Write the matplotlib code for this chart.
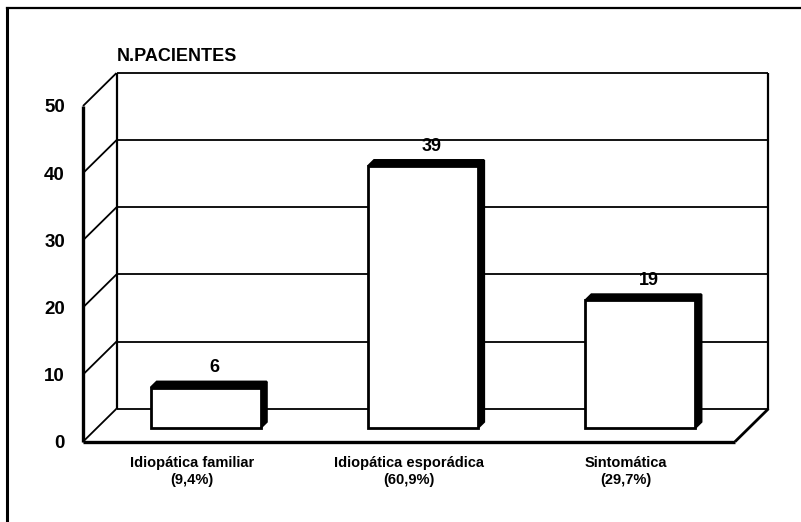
import matplotlib
matplotlib.use("Agg")
import matplotlib.pyplot as plt
from matplotlib.patches import Polygon
from matplotlib.lines import Line2D

# datos
categorias = ["Idiopática familiar\n(9,4%)", "Idiopática esporádica\n(60,9%)", "Sintomática\n(29,7%)"]
pacientes = [6, 39, 19]
ticks_y = [0, 10, 20, 30, 40, 50]
titulo_eje = "N.PACIENTES"

plt.rcParams['font.family'] = ['Liberation Sans', 'DejaVu Sans']

W, H = 801, 522
fig = plt.figure(figsize=(W / 100, H / 100), dpi=100)
fig.patch.set_facecolor("white")

# el plano frontal de la caja 3D es el area del eje
ax = fig.add_axes([83 / W, (H - 441.7) / H, (735 - 83) / W, (441.7 - 106) / H])
ax.set_xlim(-0.5, 2.5)
ax.set_ylim(0, 50)
for s in ax.spines.values():
    s.set_visible(False)
ax.patch.set_visible(False)

# profundidad (oblicua) en unidades de datos
DX = 33.5 / (652 / 3)
DY = 33.0 / (335.7 / 50)


def proj(x, v, z):
    return x + z * DX, v + z * DY


def linea(p, q, lw=1.3):
    ax.add_line(Line2D([p[0], q[0]], [p[1], q[1]], color="black", lw=lw,
                       clip_on=False, zorder=1, solid_capstyle="butt"))


# rejilla de la pared del fondo y pared lateral
for v in ticks_y:
    linea(proj(-0.5, v, 1), proj(2.5, v, 1))
    linea(proj(-0.5, v, 0), proj(-0.5, v, 1))
linea(proj(-0.5, 0, 1), proj(-0.5, 50, 1), 1.6)
linea(proj(2.5, 0, 1), proj(2.5, 50, 1), 1.6)
linea(proj(-0.5, 0, 0), proj(-0.5, 50, 0), 2.4)
# suelo
linea(proj(-0.5, 0, 0), proj(2.5, 0, 0), 2.4)
linea(proj(2.5, 0, 0), proj(2.5, 0, 1), 2.0)

# barras
w = 0.253
z0, z1 = 0.42, 0.60
for i, v in enumerate(pacientes):
    frente = [proj(i - w, 0, z0), proj(i + w, 0, z0), proj(i + w, v, z0), proj(i - w, v, z0)]
    tapa = [proj(i - w, v, z0), proj(i + w, v, z0), proj(i + w, v, z1), proj(i - w, v, z1)]
    lado = [proj(i + w, 0, z0), proj(i + w, 0, z1), proj(i + w, v, z1), proj(i + w, v, z0)]
    ax.add_patch(Polygon(lado, closed=True, facecolor="black", edgecolor="black", lw=1.5,
                         clip_on=False, zorder=3))
    ax.add_patch(Polygon(tapa, closed=True, facecolor="black", edgecolor="black", lw=1.5,
                         clip_on=False, zorder=3))
    ax.add_patch(Polygon(frente, closed=True, facecolor="white", edgecolor="black", lw=2.0,
                         clip_on=False, zorder=4, joinstyle="miter"))
    ax.annotate(str(v), xy=proj(i, v, z1), xytext=(2, 10), textcoords="offset points",
                ha="center", va="center", fontsize=13, fontweight="bold", zorder=5,
                annotation_clip=False)

ax.set_yticks(ticks_y)
ax.set_yticklabels([str(t) for t in ticks_y], fontsize=13.5, fontweight="bold")
ax.tick_params(axis="y", length=0, pad=13)
ax.set_xticks(range(len(categorias)))
ax.set_xticklabels(categorias, fontsize=10.5, fontweight="bold", linespacing=1.3)
ax.tick_params(axis="x", length=0, pad=10)

ax.annotate(titulo_eje, xy=proj(-0.5, 50, 1), xytext=(0, 12), textcoords="offset points",
            ha="left", va="center", fontsize=13, fontweight="bold",
            annotation_clip=False)

# marco de la figura
fig.add_artist(Line2D([7 / W, 1], [1 - 8 / H, 1 - 8 / H], transform=fig.transFigure,
                      color="black", lw=1.6))
fig.add_artist(Line2D([7 / W, 7 / W], [0, 1 - 8 / H], transform=fig.transFigure,
                      color="black", lw=2.2))

fig.savefig("out.png", dpi=100, facecolor="white")
